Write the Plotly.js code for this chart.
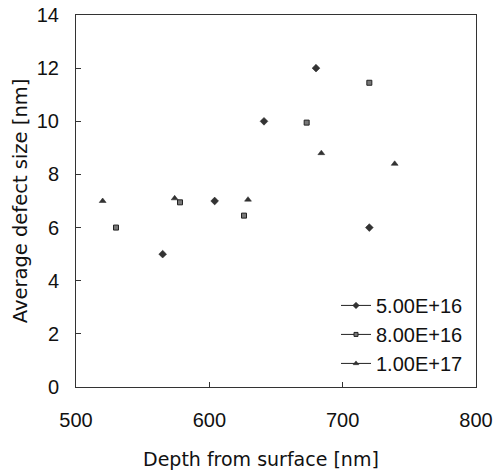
<!DOCTYPE html>
<html><head><meta charset="utf-8">
<script src="https://cdn.plot.ly/plotly-3.0.1.min.js"></script>
<style>html,body{margin:0;padding:0;background:#fff}#chart{width:493px;height:473px}</style>
</head><body><div id="chart"></div>
<script>
const seriesNames = ["5.00E+16", "8.00E+16", "1.00E+17"];
const depth5e16 = [565, 604, 641, 680, 720];
const size5e16  = [5.0, 7.0, 10.0, 12.0, 6.0];
const depth8e16 = [530, 578, 626, 673, 720];
const size8e16  = [6.0, 6.95, 6.45, 9.95, 11.45];
const depth1e17 = [520, 574, 629, 684, 739];
const size1e17  = [7.0, 7.1, 7.05, 8.8, 8.4];
const xTitle = "Depth from surface [nm]";
const yTitle = "Average defect size [nm]";

const styles = [
  {symbol: "diamond", size: 6, color: "#333", line: {color: "#222", width: 0.5}},
  {symbol: "square", size: 5, color: "#777", line: {color: "#222", width: 1}},
  {symbol: "triangle-up", size: 6, color: "#333", line: {color: "#222", width: 0.5}}
];
const xs = [depth5e16, depth8e16, depth1e17];
const ys = [size5e16, size8e16, size1e17];
const traces = [];
for (let i = 0; i < 3; i++) {
  traces.push({x: xs[i], y: ys[i], mode: "markers", type: "scatter", name: seriesNames[i],
    legendgroup: "g" + i, showlegend: false, marker: styles[i], cliponaxis: false});
}
for (let i = 0; i < 3; i++) {
  traces.push({x: [null], y: [null], mode: "lines+markers", type: "scatter", name: seriesNames[i],
    legendgroup: "g" + i, showlegend: true,
    marker: Object.assign({}, styles[i], {size: styles[i].size - 1}), line: {color: "#222", width: 1}});
}
const tickFont = {family: "Liberation Sans, Arial, sans-serif", size: 20, color: "#111"};
const titleFont = {family: "DejaVu Sans, sans-serif", size: 19, color: "#111"};
const layout = {
  width: 493, height: 473,
  margin: {l: 76, r: 17, t: 15, b: 86},
  paper_bgcolor: "#fff", plot_bgcolor: "#fff",
  showlegend: true,
  legend: {x: 0.65, y: 0.011, xanchor: "left", yanchor: "bottom", bgcolor: "rgba(0,0,0,0)",
    font: {family: "Liberation Sans, Arial, sans-serif", size: 20, color: "#111"}, tracegroupgap: 0},
  xaxis: {range: [500, 800], tickvals: [500, 600, 700, 800], ticks: "inside", ticklen: 5, tickcolor: "#333",
    showline: true, mirror: true, linecolor: "#333", linewidth: 1, showgrid: false, zeroline: false,
    tickfont: tickFont, ticklabelstandoff: 15, automargin: false},
  yaxis: {range: [0, 14], tickvals: [0, 2, 4, 6, 8, 10, 12, 14], ticks: "inside", ticklen: 5, tickcolor: "#333",
    showline: true, mirror: true, linecolor: "#333", linewidth: 1, showgrid: false, zeroline: false,
    tickfont: tickFont, ticklabelstandoff: 12, automargin: false,
    title: {text: yTitle, font: Object.assign({}, titleFont, {size: 19.5}), standoff: 3}},
  annotations: [{text: xTitle, xref: "paper", yref: "paper", x: 0.4625, y: -0.1935,
    xanchor: "center", yanchor: "middle", showarrow: false, font: titleFont}]
};
Plotly.newPlot("chart", traces, layout, {displayModeBar: false, staticPlot: true});
</script></body></html>
